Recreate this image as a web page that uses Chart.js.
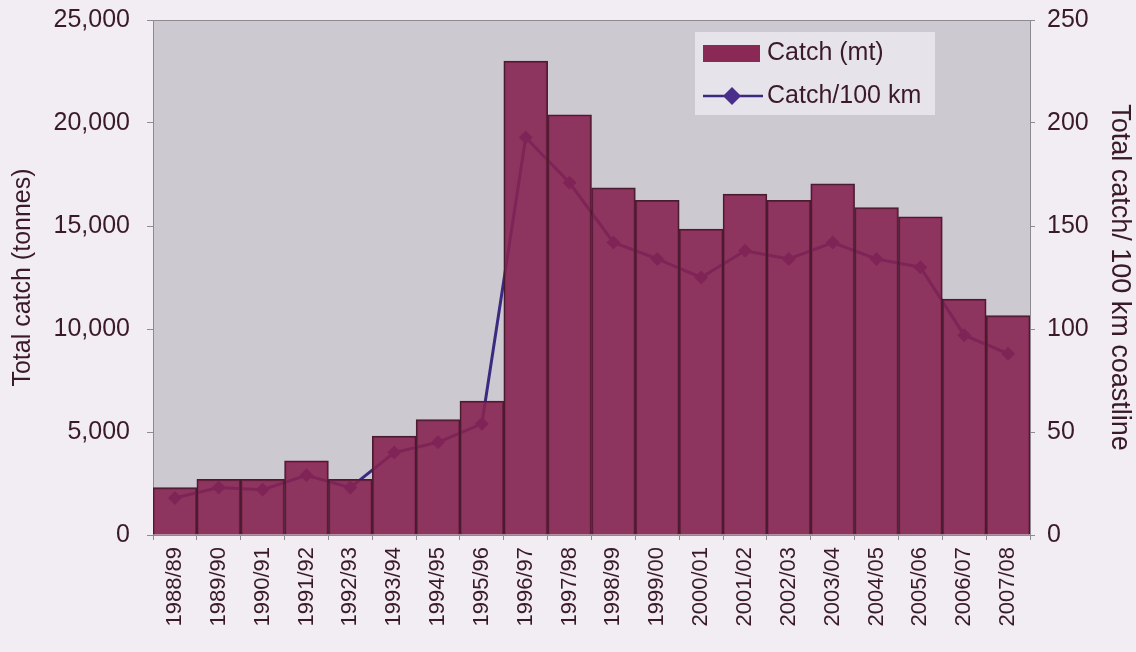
<!DOCTYPE html>
<html>
<head>
<meta charset="utf-8">
<script src="https://cdn.jsdelivr.net/npm/chart.js@4/dist/chart.umd.min.js"></script>
<style>
  html, body { margin: 0; padding: 0; background: #f1edf3; }
  #wrap { width: 1136px; height: 652px; }
</style>
</head>
<body>
<div id="wrap"><canvas id="chart" width="1136" height="652"></canvas></div>
<script>
// seasons on the x axis
const seasons = ["1988/89", "1989/90", "1990/91", "1991/92", "1992/93", "1993/94", "1994/95",
  "1995/96", "1996/97", "1997/98", "1998/99", "1999/00", "2000/01", "2001/02", "2002/03",
  "2003/04", "2004/05", "2005/06", "2006/07", "2007/08"];

// total catch in tonnes (left axis)
const catchTonnes = [2300, 2700, 2700, 3600, 2700, 4800, 5600, 6500, 23000, 20400,
  16850, 16250, 14850, 16550, 16250, 17050, 15900, 15450, 11450, 10650];

// catch per 100 km of coastline (right axis)
const catchPer100km = [18, 23, 22, 29, 23, 40, 45, 54, 193, 171,
  142, 134, 125, 138, 134, 142, 134, 130, 97, 88];

const leftTicks = [0, 5000, 10000, 15000, 20000, 25000];
const rightTicks = [0, 50, 100, 150, 200, 250];

const fontFamily = "'Liberation Sans', Arial, sans-serif";
const textColor = "#3a1a28";
const barColor = "#8a2856";
const lineColor = "#3b2a80";

// grey plot area like the original
const plotBackground = {
  id: "plotBackground",
  beforeDraw(chart) {
    const { ctx, chartArea: a } = chart;
    ctx.save();
    ctx.fillStyle = "#cccad0";
    ctx.fillRect(a.left, a.top, a.right - a.left, a.bottom - a.top);
    ctx.strokeStyle = "#8d8a92";
    ctx.lineWidth = 1;
    ctx.strokeRect(a.left + 0.5, a.top + 0.5, a.right - a.left, a.bottom - a.top);
    ctx.restore();
  }
};

// legend box inside the plot, top right
const insideLegend = {
  id: "insideLegend",
  afterDraw(chart) {
    const { ctx, chartArea: a } = chart;
    const bar = chart.data.datasets.find(d => d.type !== "line");
    const line = chart.data.datasets.find(d => d.type === "line");
    const x = a.right - 335, y = a.top + 12;
    ctx.save();
    ctx.fillStyle = "#e6e3ea";
    ctx.fillRect(x, y, 240, 83);
    ctx.font = "25px " + fontFamily;
    ctx.textBaseline = "middle";

    ctx.fillStyle = barColor;
    ctx.fillRect(x + 8, y + 13, 57, 17);
    ctx.fillStyle = textColor;
    ctx.fillText(bar.label, x + 72, y + 21);

    const ly = y + 64;
    ctx.strokeStyle = lineColor;
    ctx.lineWidth = 2.5;
    ctx.beginPath();
    ctx.moveTo(x + 8, ly);
    ctx.lineTo(x + 68, ly);
    ctx.stroke();
    ctx.fillStyle = "#4a2f8a";
    ctx.beginPath();
    ctx.moveTo(x + 37, ly - 9);
    ctx.lineTo(x + 46, ly);
    ctx.lineTo(x + 37, ly + 9);
    ctx.lineTo(x + 28, ly);
    ctx.closePath();
    ctx.fill();
    ctx.fillStyle = textColor;
    ctx.fillText(line.label, x + 72, ly);
    ctx.restore();
  }
};

new Chart(document.getElementById("chart"), {
  type: "bar",
  data: {
    labels: seasons,
    datasets: [
      {
        label: "Catch (mt)",
        data: catchTonnes,
        yAxisID: "y",
        backgroundColor: "rgba(134, 36, 82, 0.9)",
        borderColor: "#4a1c30",
        borderWidth: 1.5,
        barPercentage: 1,
        categoryPercentage: 1,
        order: 1
      },
      {
        type: "line",
        label: "Catch/100 km",
        data: catchPer100km,
        yAxisID: "y1",
        borderColor: lineColor,
        borderWidth: 3,
        pointStyle: "rectRot",
        pointRadius: 7,
        pointBackgroundColor: "#4a2f8a",
        pointBorderWidth: 0,
        order: 2
      }
    ]
  },
  options: {
    responsive: false,
    animation: false,
    layout: { padding: { top: 20, bottom: 0, left: 0, right: 0 } },
    plugins: {
      legend: { display: false },
      tooltip: { enabled: false }
    },
    scales: {
      x: {
        grid: { drawOnChartArea: false, tickLength: 5, color: "#8d8a92" },
        border: { color: "#8d8a92" },
        ticks: {
          color: textColor,
          font: { family: fontFamily, size: 22 },
          maxRotation: 90,
          minRotation: 90,
          padding: 7
        },
        afterFit(s) {
          s.height = 117;
          s.paddingLeft = 0;
          s.paddingRight = 0;
        }
      },
      y: {
        position: "left",
        min: 0,
        max: 25000,
        afterBuildTicks(s) { s.ticks = leftTicks.map(v => ({ value: v })); },
        grid: { drawOnChartArea: false, tickLength: 6, color: "#8d8a92" },
        border: { color: "#8d8a92" },
        ticks: {
          color: textColor,
          font: { family: fontFamily, size: 25 },
          callback: v => v.toLocaleString("en-US"),
          padding: 17
        },
        title: {
          display: true,
          text: "Total catch (tonnes)",
          color: textColor,
          font: { family: fontFamily, size: 25 },
          padding: { top: 8, bottom: 0 }
        },
        afterFit(s) {
          s.width = 153;
          s.paddingTop = 0;
          s.paddingBottom = 0;
        }
      },
      y1: {
        position: "right",
        min: 0,
        max: 250,
        afterBuildTicks(s) { s.ticks = rightTicks.map(v => ({ value: v })); },
        grid: { drawOnChartArea: false, tickLength: 5, color: "#8d8a92" },
        border: { color: "#8d8a92" },
        ticks: {
          color: textColor,
          font: { family: fontFamily, size: 25 },
          padding: 12
        },
        title: {
          display: true,
          text: "Total catch/ 100 km coastline",
          color: textColor,
          font: { family: fontFamily, size: 27 },
          padding: { top: 0, bottom: 0 }
        },
        afterFit(s) {
          s.width = 106;
          s.paddingTop = 0;
          s.paddingBottom = 0;
        }
      }
    }
  },
  plugins: [plotBackground, insideLegend]
});
</script>
</body>
</html>
